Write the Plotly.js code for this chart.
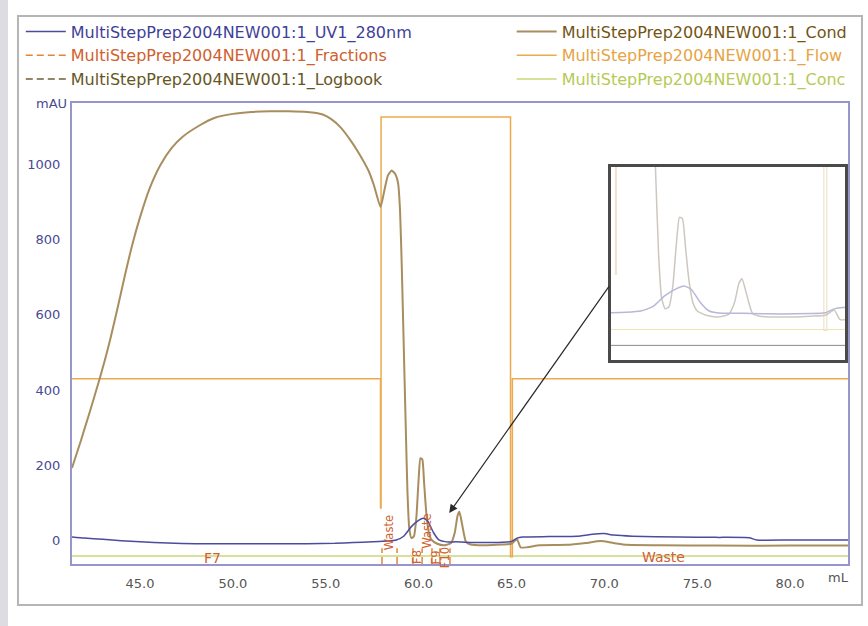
<!DOCTYPE html>
<html>
<head>
<meta charset="utf-8">
<script src="https://cdn.plot.ly/plotly-3.0.1.min.js"></script>
<style>html,body{margin:0;padding:0;background:#fff;}#chart{width:868px;height:626px;}</style>
</head>
<body>
<div id="chart"></div>
<script>
// ---- data (volume in mL, signal in mAU-scaled units) ----
const uvX = [41.34, 42.0, 43.0, 44.0, 45.0, 46.5, 48.0, 50.0, 52.0, 54.0, 55.5, 56.5, 57.5, 58.3, 58.8, 59.2, 59.6, 60.0, 60.25, 60.5, 60.8, 61.1, 61.5, 62.0, 62.5, 63.5, 64.5, 65.0, 65.3, 65.6, 67.0, 68.5, 69.5, 70.0, 70.5, 71.5, 74.0, 76.0, 77.8, 78.2, 80.0, 83.12];
const uvY = [8, 5, 2, -2, -5, -8, -10, -10, -10, -10, -9, -7, -5, -3, 0, 10, 35, 52, 58, 50, 20, 0, -5, -5, -6, -7, -6, -4, 5, 8, 9, 10, 16, 17, 13, 10, 8, 7, 6, 0, 0, 0];

const condX = [41.34, 41.8, 42.3, 42.8, 43.1, 43.4, 43.8, 44.2, 44.6, 45.0, 45.5, 46.1, 46.7, 47.3, 48.2, 49.0, 50.0, 51.0, 52.0, 53.0, 54.0, 54.8, 55.3, 55.8, 56.3, 56.8, 57.3, 57.6, 57.95, 58.15, 58.35, 58.55, 58.75, 58.9, 59.0, 59.1, 59.2, 59.3, 59.4, 59.5, 59.62, 59.75, 59.88, 60.0, 60.1, 60.2, 60.3, 60.42, 60.55, 60.7, 61.0, 61.4, 61.75, 61.95, 62.1, 62.2, 62.35, 62.55, 62.8, 63.5, 64.5, 65.0, 65.3, 65.5, 66.5, 68.0, 69.0, 69.8, 70.5, 71.2, 73.0, 76.0, 80.0, 83.12];
const condY = [192, 262, 342, 425, 478, 535, 620, 708, 790, 860, 935, 1000, 1045, 1075, 1105, 1125, 1136, 1141, 1143, 1143, 1141, 1135, 1122, 1100, 1068, 1030, 985, 945, 888, 930, 972, 985, 975, 950, 880, 720, 520, 320, 130, 30, 5, 10, 60, 160, 218, 215, 150, 70, 20, 0, -10, -14, -8, 20, 65, 75, 40, -5, -12, -14, -12, -10, 2, -20, -14, -13, -8, -3, -8, -13, -14, -15, -15, -15];

const flowX = [41.34, 57.95, 57.95, 57.98, 57.98, 64.95, 64.95, 65.05, 65.05, 83.12];
const flowY = [430, 430, 85, 85, 1128, 1128, -45, -45, 430, 430];

const concX = [41.34, 83.12];
const concY = [-43, -43];

const logbookX = [41.34, 83.12];
const logbookY = [-80, -80];

const fracBounds = [58.03, 58.84, 59.70, 60.19, 60.72, 61.15, 61.69];
const fracLabels = ['F7', 'Waste', 'F8', 'Waste', 'F9', 'F10', 'Waste'];
const fracLabelX = [48.9, 58.45, 59.95, 60.45, 60.95, 61.42, 73.2];
const fracLabelY = [-47, 20, -46, 25, -46, -46, -46];
const fracRotated = [false, true, true, true, true, true, false];

const xTicks = [45, 50, 55, 60, 65, 70, 75, 80];
const yTicks = [0, 200, 400, 600, 800, 1000];

const names = {
  uv: 'MultiStepPrep2004NEW001:1_UV1_280nm',
  frac: 'MultiStepPrep2004NEW001:1_Fractions',
  log: 'MultiStepPrep2004NEW001:1_Logbook',
  cond: 'MultiStepPrep2004NEW001:1_Cond',
  flow: 'MultiStepPrep2004NEW001:1_Flow',
  conc: 'MultiStepPrep2004NEW001:1_Conc'
};

// ---- styles ----
const C = {
  uv: '#4b4b9f', uvTxt: '#3f3f98',
  frac: '#e0863a', fracTxt: '#d0602e',
  log: '#6d6034', logTxt: '#66561e',
  cond: '#a88e5e', condTxt: '#735412',
  flow: '#ebaa4e', flowTxt: '#e6a443',
  conc: '#c8d777', concTxt: '#b6ca55'
};
const FONT = 'DejaVu Sans, Noto Sans, sans-serif';
const XR = [41.34, 83.12], YR = [-64, 1165];

const fracLX = [], fracLY = [];
fracBounds.forEach(b => { fracLX.push(b, b, null); fracLY.push(-64, -22, null); });

function lbl(t, c) { return '<span style="color:' + c + '">' + t + '</span>'; }

const traces = [
  {x: concX, y: concY, type: 'scatter', mode: 'lines', name: lbl(names.conc, C.concTxt), legend: 'legend2', legendrank: 3, line: {color: C.conc, width: 1.5}, hoverinfo: 'skip'},
  {x: flowX, y: flowY, type: 'scatter', mode: 'lines', name: lbl(names.flow, C.flowTxt), legend: 'legend2', legendrank: 2, line: {color: C.flow, width: 1.5}, hoverinfo: 'skip'},
  {x: fracLX, y: fracLY, type: 'scatter', mode: 'lines', name: lbl(names.frac, C.fracTxt), legend: 'legend', legendrank: 2, line: {color: C.frac, width: 1.5, dash: '7px,4px'}, hoverinfo: 'skip'},
  {x: logbookX, y: logbookY, type: 'scatter', mode: 'lines', name: lbl(names.log, C.logTxt), legend: 'legend', legendrank: 3, line: {color: C.log, width: 1.5, dash: '7px,4px'}, hoverinfo: 'skip'},
  {x: condX, y: condY, type: 'scatter', mode: 'lines', name: lbl(names.cond, C.condTxt), legend: 'legend2', legendrank: 1, line: {color: C.cond, width: 2, shape: 'spline', smoothing: 0.5}, hoverinfo: 'skip'},
  {x: uvX, y: uvY, type: 'scatter', mode: 'lines', name: lbl(names.uv, C.uvTxt), legend: 'legend', legendrank: 1, line: {color: C.uv, width: 1.5, shape: 'spline', smoothing: 0.5}, hoverinfo: 'skip'},
  // inset (zoomed, faded view of the same data)
  {x: logbookX, y: logbookY, xaxis: 'x2', yaxis: 'y2', type: 'scatter', mode: 'lines', showlegend: false, line: {color: '#8a8a8a', width: 1}, hoverinfo: 'skip'},
  {x: concX, y: concY, xaxis: 'x2', yaxis: 'y2', type: 'scatter', mode: 'lines', showlegend: false, line: {color: '#ece6b4', width: 1.2}, hoverinfo: 'skip'},
  {x: flowX, y: flowY, xaxis: 'x2', yaxis: 'y2', type: 'scatter', mode: 'lines', showlegend: false, line: {color: '#efe3cc', width: 1.2}, hoverinfo: 'skip'},
  {x: condX, y: condY, xaxis: 'x2', yaxis: 'y2', type: 'scatter', mode: 'lines', showlegend: false, line: {color: '#cdc7c0', width: 1.5, shape: 'spline', smoothing: 0.5}, hoverinfo: 'skip'},
  {x: uvX, y: uvY, xaxis: 'x2', yaxis: 'y2', type: 'scatter', mode: 'lines', showlegend: false, line: {color: '#b7b7d6', width: 1.5, shape: 'spline', smoothing: 0.5}, hoverinfo: 'skip'}
];

const annotations = [];
fracLabels.forEach((t, i) => {
  annotations.push({x: fracLabelX[i], y: fracLabelY[i], xref: 'x', yref: 'y', text: t, showarrow: false,
    textangle: fracRotated[i] ? -90 : 0, font: {family: FONT, size: fracRotated[i] ? 11.5 : 14, color: C.fracTxt}});
});
annotations.push({xref: 'paper', yref: 'paper', x: -0.004, y: 1.0, xanchor: 'right', yanchor: 'middle', text: 'mAU', showarrow: false, font: {family: FONT, size: 13, color: '#4a4a92'}});
annotations.push({xref: 'paper', yref: 'paper', x: 0.988, y: -0.03, xanchor: 'center', yanchor: 'middle', text: 'mL', showarrow: false, font: {family: FONT, size: 13, color: '#555'}});
annotations.push({xref: 'x', yref: 'y', x: 61.65, y: 72, axref: 'x', ayref: 'y', ax: 70.31, ay: 680, text: '', showarrow: true, arrowhead: 2, arrowsize: 1.4, arrowwidth: 1.2, arrowcolor: '#2a2a2a', standoff: 0});

const shapes = [
  // page frame
  {type: 'rect', xref: 'paper', yref: 'paper', x0: -0.0928, x1: -0.0825, y0: -0.1345, y1: 1.2234, fillcolor: '#dcdce2', line: {width: 0}, layer: 'below'},
  {type: 'rect', xref: 'paper', yref: 'paper', x0: -0.0696, x1: 1.018, y0: -0.0889, y1: 1.1887, fillcolor: 'rgba(0,0,0,0)', line: {color: '#b5b5b5', width: 2}, layer: 'below'},
  // inset background
  {type: 'rect', xref: 'paper', yref: 'paper', x0: 0.6946, x1: 0.9961, y0: 0.4425, y1: 0.8612, fillcolor: '#f9f9f6', line: {width: 0}, layer: 'below'}
];

const layout = {
  width: 868, height: 626,
  margin: {l: 72, r: 20, t: 103, b: 62, pad: 0},
  paper_bgcolor: '#ffffff', plot_bgcolor: '#ffffff',
  font: {family: FONT, size: 13, color: '#555'},
  showlegend: true,
  legend: {x: -0.066, y: 1.192, xanchor: 'left', yanchor: 'top', orientation: 'v', bgcolor: 'rgba(0,0,0,0)', font: {family: FONT, size: 16}, itemwidth: 40, tracegroupgap: 0, traceorder: 'normal'},
  legend2: {x: 1.006, y: 1.192, xanchor: 'right', yanchor: 'top', orientation: 'v', bgcolor: 'rgba(0,0,0,0)', font: {family: FONT, size: 16}, itemwidth: 40, tracegroupgap: 0, traceorder: 'normal'},
  xaxis: {range: XR, tickvals: xTicks, ticktext: xTicks.map(v => v.toFixed(1)), showgrid: false, zeroline: false,
    showline: true, mirror: true, linecolor: '#9696cc', linewidth: 2, ticks: '', ticklabelstandoff: 6,
    tickfont: {family: FONT, size: 13, color: '#555'}},
  yaxis: {range: YR, tickvals: yTicks, showgrid: false, zeroline: false,
    showline: true, mirror: true, linecolor: '#9696cc', linewidth: 2, ticks: '', ticklabelstandoff: 7,
    tickfont: {family: FONT, size: 13, color: '#4a4a92'}},
  xaxis2: {domain: [0.6946, 0.9961], anchor: 'y2', range: [57.8, 65.66], showgrid: false, zeroline: false, showticklabels: false, ticks: '',
    showline: true, mirror: true, linecolor: '#4a4a4a', linewidth: 3},
  yaxis2: {domain: [0.4425, 0.8612], anchor: 'x2', range: [-114, 335], showgrid: false, zeroline: false, showticklabels: false, ticks: '',
    showline: true, mirror: true, linecolor: '#4a4a4a', linewidth: 3},
  annotations: annotations,
  shapes: shapes
};

Plotly.newPlot('chart', traces, layout, {staticPlot: true, displayModeBar: false});
</script>
</body>
</html>
